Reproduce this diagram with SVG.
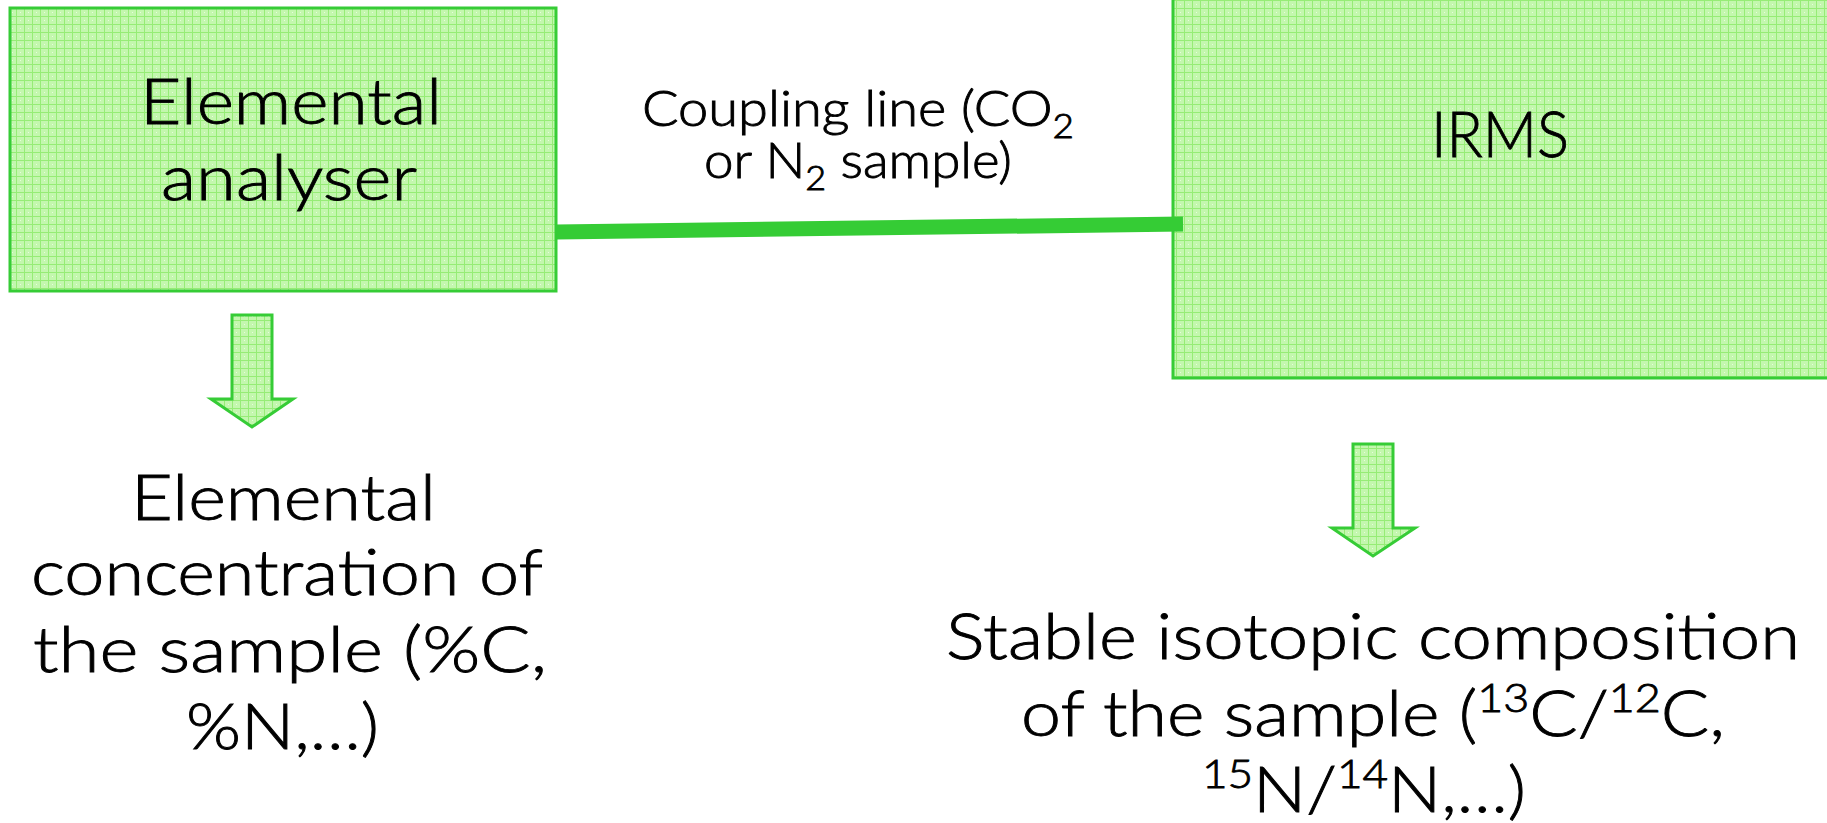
<svg xmlns="http://www.w3.org/2000/svg" width="1827" height="823" viewBox="0 0 1827 823">
<defs>
<pattern id="grid" width="8" height="8" patternUnits="userSpaceOnUse">
<rect width="8" height="8" fill="#c3f7ae"/>
<path d="M0 0.5H8M0.5 0V8" stroke="#96ec76" stroke-width="1"/>
<rect x="4" y="4" width="1" height="1" fill="#e6fcdb"/>
</pattern>
</defs>
<style>
.box{fill:url(#grid);stroke:#36cc36;stroke-width:3}
.arrow{fill:url(#grid);stroke:#36cc36;stroke-width:3;stroke-linejoin:miter}
.link{stroke:#35cc35;stroke-width:15;fill:none}
.t{font-family:Lato,"Liberation Sans",sans-serif;font-weight:300;fill:#000;stroke:#000;stroke-width:0.9}
.big{font-size:64px}
.mid{font-size:50px}
</style>
<rect width="1827" height="823" fill="#fff"/>

<g id="node-elemental-analyser">
<rect class="box" x="10" y="8" width="546" height="283"/>
<text class="t big" x="140" y="124" textLength="302" lengthAdjust="spacingAndGlyphs">Elemental</text>
<text class="t big" x="161" y="200" textLength="256" lengthAdjust="spacingAndGlyphs">analyser</text>
</g>

<g id="node-irms">
<rect class="box" x="1173" y="-10" width="700" height="388"/>
<text class="t big" x="1431" y="157" textLength="138" lengthAdjust="spacingAndGlyphs">IRMS</text>
</g>

<g id="connectors">
<line class="link" x1="556" y1="232" x2="1183" y2="224"/>
<path class="arrow" d="M232 315H272V399H293L252 427L211 399H232Z"/>
<path class="arrow" d="M1353 444H1393V528H1415L1373 556L1332 528H1353Z"/>
</g>

<g id="label-coupling">
<text class="t mid" x="642" y="126" textLength="432" lengthAdjust="spacingAndGlyphs">Coupling line (CO<tspan font-size="34" dy="12">2</tspan></text>
<text class="t mid" x="704" y="178" textLength="308" lengthAdjust="spacingAndGlyphs">or N<tspan font-size="34" dy="12">2</tspan><tspan dy="-12"> sample)</tspan></text>
</g>

<g id="node-elemental-concentration">
<text class="t big" x="131" y="520" textLength="305" lengthAdjust="spacingAndGlyphs">Elemental</text>
<text class="t big" x="31" y="595" textLength="512" lengthAdjust="spacingAndGlyphs">concentration of</text>
<text class="t big" x="33" y="672" textLength="514" lengthAdjust="spacingAndGlyphs">the sample (%C,</text>
<text class="t big" x="186" y="749" textLength="193" lengthAdjust="spacingAndGlyphs">%N,…)</text>
</g>

<g id="node-isotopic-composition">
<text class="t big" x="946" y="659" textLength="854" lengthAdjust="spacingAndGlyphs">Stable isotopic composition</text>
<text class="t big" x="1021" y="736" textLength="704" lengthAdjust="spacingAndGlyphs">of the sample (<tspan font-size="40" dy="-24">13</tspan><tspan dy="24">C/</tspan><tspan font-size="40" dy="-24">12</tspan><tspan dy="24">C,</tspan></text>
<text class="t big" x="1202" y="812" textLength="324" lengthAdjust="spacingAndGlyphs"><tspan font-size="40" dy="-24">15</tspan><tspan dy="24">N/</tspan><tspan font-size="40" dy="-24">14</tspan><tspan dy="24">N,…)</tspan></text>
</g>
</svg>
